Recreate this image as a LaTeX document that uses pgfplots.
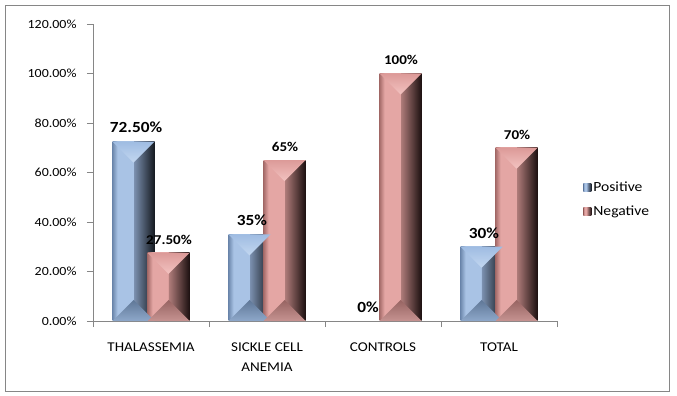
\documentclass[border=0pt]{standalone}
\usepackage{fontspec}
\setmainfont{Carlito}[FakeStretch=1.12]
\usepackage{pgfplots}
\usepackage{pgfplotstable}
\pgfplotsset{compat=1.18}
\definecolor{axgray}{HTML}{868686}
\definecolor{bA}{HTML}{6E89AE}
\definecolor{bB}{HTML}{A9C3E5}
\definecolor{bC}{HTML}{7D93B2}
\definecolor{bD}{HTML}{141920}
\definecolor{bT}{HTML}{9FBCE2}
\definecolor{bTt}{HTML}{C3D7F0}
\definecolor{bBa}{HTML}{5F7797}
\definecolor{bBb}{HTML}{8EA8CA}
\definecolor{pA}{HTML}{A66C6A}
\definecolor{pB}{HTML}{E4A6A4}
\definecolor{pC}{HTML}{B27E7C}
\definecolor{pD}{HTML}{1C1010}
\definecolor{pT}{HTML}{DC9A98}
\definecolor{pTt}{HTML}{F3C3C1}
\definecolor{pBa}{HTML}{976462}
\definecolor{pBb}{HTML}{C69391}
\pgfdeclarehorizontalshading{bluebar}{100bp}{color(0bp)=(bA); color(25bp)=(bA); color(31bp)=(bB); color(49.8bp)=(bB); color(50bp)=(bC); color(75bp)=(bD); color(100bp)=(bD)}
\pgfdeclarehorizontalshading{pinkbar}{100bp}{color(0bp)=(pA); color(25bp)=(pA); color(31bp)=(pB); color(49.8bp)=(pB); color(50bp)=(pC); color(75bp)=(pD); color(100bp)=(pD)}
\pgfdeclareplotmark{btop}{\shade[draw=none, top color=bT, bottom color=bTt] (-21bp,0bp) -- (21bp,0bp) -- (0bp,-21bp) -- cycle;}
\pgfdeclareplotmark{bbot}{\shade[draw=none, top color=bBa, bottom color=bBb] (-21bp,0bp) -- (21bp,0bp) -- (0bp,21bp) -- cycle;}
\pgfdeclareplotmark{ptop}{\shade[draw=none, top color=pT, bottom color=pTt] (-21bp,0bp) -- (21bp,0bp) -- (0bp,-21bp) -- cycle;}
\pgfdeclareplotmark{pbot}{\shade[draw=none, top color=pBa, bottom color=pBb] (-21bp,0bp) -- (21bp,0bp) -- (0bp,21bp) -- cycle;}
\pgfplotstableread{
x y lab
0 72.5 72.50
1 35 35
2 0 0
3 30 30
}\pos
\pgfplotstableread{
x y lab
0 27.5 27.50
1 65 65
2 100 100
3 70 70
}\negt
\begin{document}
\begin{tikzpicture}
\path[use as bounding box] (0,0) rectangle (677bp,396bp);
\draw[axgray, line width=1bp] (5.5bp,4.5bp) rectangle (669.5bp,390bp);
\begin{axis}[
  at={(93bp,75bp)}, anchor=south west,
  scale only axis, width=464bp, height=297bp,
  xmin=-0.5, xmax=3.5, ymin=0, ymax=120,
  axis x line*=bottom, axis y line*=left,
  axis line style={axgray, line width=0.8bp},
  /pgf/number format/assume math mode=true,
  ytick={0,20,...,120},
  yticklabel={\pgfmathprintnumber[fixed,fixed zerofill,precision=2]{\tick}\%},
  yticklabel style={font=\fontsize{12.5}{14}\selectfont, xshift=-7bp},
  xtick={0,1,2,3},
  xticklabels={THALASSEMIA, {SICKLE CELL\\ANEMIA}, CONTROLS, TOTAL},
  xticklabel style={align=center, font=\fontsize{13.5}{20}\selectfont, yshift=-12bp},
  minor xtick={-0.5,0.5,1.5,2.5,3.5},
  tick align=outside,
  major tick length=6bp, minor tick length=6bp,
  tick style={axgray, line width=0.8bp},
  major x tick style={draw=none},
  legend style={at={(1.05,0.41)}, anchor=west, draw=none, fill=none,
    font=\fontsize{14}{16}\selectfont, row sep=9bp},
  legend cell align=left,
  clip=false,
]
% bars, one path each so that each bar gets its own shading
\pgfplotsinvokeforeach{0,1,3}{
  \addplot[ybar, bar width=42bp, bar shift=-17.5bp, draw=none, shading=bluebar, forget plot,
    x filter/.expression={abs(x-#1)<0.5 ? x : nan}] table[x=x, y=y] {\pos};
}
\pgfplotsinvokeforeach{0,1,2,3}{
  \addplot[ybar, bar width=42bp, bar shift=17.5bp, draw=none, shading=pinkbar, forget plot,
    x filter/.expression={abs(x-#1)<0.5 ? x : nan}] table[x=x, y=y] {\negt};
}
% bevel faces at bar tops and bottoms
\addplot[only marks, mark=btop, mark options={xshift=-17.5bp}, forget plot,
  y filter/.expression={y>0 ? y : nan}] table[x=x, y=y] {\pos};
\addplot[only marks, mark=bbot, mark options={xshift=-17.5bp}, forget plot,
  y filter/.expression={\thisrow{y}>0 ? 0 : nan}] table[x=x, y=y] {\pos};
\addplot[only marks, mark=ptop, mark options={xshift=17.5bp}, forget plot] table[x=x, y=y] {\negt};
\addplot[only marks, mark=pbot, mark options={xshift=17.5bp}, forget plot,
  y filter/.expression={0}] table[x=x, y=y] {\negt};
% data labels
\addplot[ybar, bar width=42bp, bar shift=-17.5bp, draw=none, fill=none,
  point meta=explicit symbolic, nodes near coords={\pgfplotspointmeta\%},
  every node near coord/.append style={font=\bfseries\fontsize{15.5}{15}\selectfont, text=black, xshift=-15bp, yshift=5bp},
  legend image code/.code={\path[shading=bluebar] (0bp,-4bp) rectangle (8bp,4bp);}]
  table[x=x, y=y, meta=lab] {\pos};
\addlegendentry{Positive}
\addplot[ybar, bar width=42bp, bar shift=17.5bp, draw=none, fill=none,
  point meta=explicit symbolic, nodes near coords={\pgfplotspointmeta\%},
  every node near coord/.append style={font=\bfseries\fontsize{13.5}{14}\selectfont, text=black, xshift=18bp, yshift=5bp},
  legend image code/.code={\path[shading=pinkbar] (0bp,-4bp) rectangle (8bp,4bp);}]
  table[x=x, y=y, meta=lab] {\negt};
\addlegendentry{Negative}
\end{axis}
\end{tikzpicture}
\end{document}
